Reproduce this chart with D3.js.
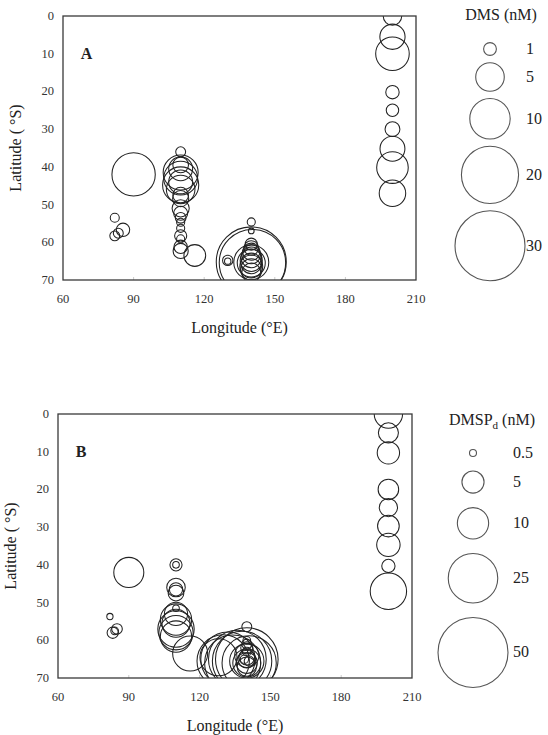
<!DOCTYPE html>
<html>
<head>
<meta charset="utf-8">
<script src="https://cdn.jsdelivr.net/npm/d3@7"></script>
<style>
  body { margin: 0; background: #fff; }
  svg { display: block; }
  svg text { font-family: "Liberation Serif", "Times New Roman", "DejaVu Serif", serif; }
  .tick-label { font-size: 12.5px; fill: #333; }
  .axis-title { font-size: 16px; fill: #222; }
  .legend-text { font-size: 16px; fill: #222; }
</style>
</head>
<body>
<script>
// Station data: [longitude (°E), latitude (°S), concentration (nM)]
var dmsPoints = [
  [82, 53.5, 0.5], [82, 58.3, 0.6], [83.5, 57.6, 0.6], [85.5, 56.7, 1.1],
  [90, 42, 11.5],
  [110, 36, 0.6], [110, 39.5, 1.5], [110, 40.5, 3.5], [110, 41.5, 7.5], [110, 43, 7],
  [110, 44, 3.5], [110, 44.8, 8], [110, 46, 5], [110, 47.5, 1.5], [110, 48.4, 1.6],
  [110, 51, 1.8], [110, 52.3, 1.2], [110, 53.5, 0.7], [110, 54.7, 0.4], [110, 56.3, 0.4],
  [110, 58.3, 0.9], [110, 59.1, 0.4], [110, 61.2, 1.1], [110, 62.3, 1.4],
  [116, 63.5, 2.9],
  [130, 64.8, 0.65], [130, 65, 0.25],
  [140, 54.6, 0.4], [140, 57, 0.2], [140, 65.2, 30], [140.5, 65.4, 27], [140, 65.3, 7.5],
  [140, 65.5, 4.8], [140, 60.5, 0.9], [140, 61.5, 1.3], [140, 62.5, 1.8], [140, 63.2, 2.2],
  [140, 64, 2.6], [140, 64.8, 3], [140, 65.6, 2.6], [140, 66.4, 3.2], [140, 67.2, 2.8], [140, 68, 2.2],
  [200, 0, 2.1], [200, 5.5, 3.9], [200, 10, 6.9], [200, 20.2, 1.1], [200, 25, 0.95],
  [200, 30, 1.35], [200, 35.2, 3.8], [200, 40.2, 6.1], [200, 47, 4.3]
];

var dmspPoints = [
  [82, 53.7, 0.4], [83.2, 58, 1.3], [85, 57, 1.15], [84, 57.5, 0.6],
  [90, 42, 9.2],
  [110, 40, 1.5], [110, 40, 0.45], [110, 46, 3.5], [110, 46.5, 1.8], [110, 47.5, 2.5],
  [110, 51.5, 0.45], [110, 53, 5.5], [110, 54.5, 10], [110, 55.5, 8], [110, 57, 13.5],
  [110, 58, 12], [110, 59, 10],
  [116, 63.5, 12.5],
  [128, 64.5, 14], [130, 65.5, 28], [132, 65, 30], [134, 66, 32], [136, 65, 34],
  [138, 65.5, 36], [140, 65, 40], [141, 66, 30], [140, 56.4, 1.0], [140, 65.5, 12],
  [140, 66, 8], [140, 64, 6], [140, 60, 0.6], [140, 61, 1], [140, 62, 1.5], [140, 63, 0.8],
  [140, 64.5, 2.5], [140, 65, 3.2], [140, 66, 4.5], [140, 67, 3.8], [139, 65, 0.7], [141, 65.5, 1],
  [200, 0, 8.2], [200, 5, 4.1], [200, 10.3, 5.1], [200, 20, 4.3], [200, 24.8, 3.4],
  [200, 29.7, 4.8], [200, 34.7, 5.6], [200, 40.3, 1.8], [200, 47, 13.5]
];

// Legend sizes
var dmsLegend = [1, 5, 10, 20, 30];
var dmspLegend = [0.5, 5, 10, 25, 50];

// Tick labels
var lonTicks = [60, 90, 120, 150, 180, 210];
var latTicks = [0, 10, 20, 30, 40, 50, 60, 70];

var svg = d3.select("body")
  .append("svg")
  .attr("width", 548)
  .attr("height", 735);

function drawPanel(cfg) {
  var x = d3.scaleLinear().domain([60, 210]).range([cfg.left, cfg.right]);
  var y = d3.scaleLinear().domain([0, 70]).range([cfg.top, cfg.bottom]);
  var r = d3.scaleSqrt().domain([0, cfg.maxVal]).range([0, 35]);

  var g = svg.append("g");

  // clip circles to the plot frame
  g.append("clipPath")
    .attr("id", cfg.id + "-clip")
    .append("rect")
    .attr("x", cfg.left)
    .attr("y", cfg.top)
    .attr("width", cfg.right - cfg.left)
    .attr("height", cfg.bottom - cfg.top);

  // faint inner ticks on the bottom axis
  g.selectAll(".xtick")
    .data(lonTicks.slice(1, -1))
    .enter()
    .append("line")
    .attr("x1", d => x(d))
    .attr("x2", d => x(d))
    .attr("y1", cfg.bottom)
    .attr("y2", cfg.bottom - 3)
    .attr("stroke", "#ccc");

  g.append("g")
    .attr("clip-path", `url(#${cfg.id}-clip)`)
    .selectAll("circle")
    .data(cfg.data)
    .enter()
    .append("circle")
    .attr("cx", d => x(d[0]))
    .attr("cy", d => y(d[1]))
    .attr("r", d => r(d[2]))
    .attr("fill", "none")
    .attr("stroke", "#222")
    .attr("stroke-width", 1.05);

  // frame
  g.append("rect")
    .attr("x", cfg.left)
    .attr("y", cfg.top)
    .attr("width", cfg.right - cfg.left)
    .attr("height", cfg.bottom - cfg.top)
    .attr("fill", "none")
    .attr("stroke", "#3a3a3a")
    .attr("stroke-width", 1.3);

  g.selectAll(".xlab")
    .data(lonTicks)
    .enter()
    .append("text")
    .attr("class", "tick-label")
    .attr("x", d => x(d))
    .attr("y", cfg.bottom + 23)
    .attr("text-anchor", "middle")
    .text(d => d);

  g.selectAll(".ylab")
    .data(latTicks)
    .enter()
    .append("text")
    .attr("class", "tick-label")
    .attr("x", cfg.left - 9)
    .attr("y", d => y(d) + 4)
    .attr("text-anchor", "end")
    .text(d => d);

  g.append("text")
    .attr("class", "axis-title")
    .attr("x", (cfg.left + cfg.right) / 2)
    .attr("y", cfg.bottom + 53)
    .attr("text-anchor", "middle")
    .text("Longitude (°E)");

  g.append("text")
    .attr("class", "axis-title")
    .attr("transform", `translate(${cfg.left - 42}, ${y(35)}) rotate(-90)`)
    .attr("text-anchor", "middle")
    .text("Latitude ( °S)");

  g.append("text")
    .attr("x", x(67.5))
    .attr("y", y(11.5))
    .attr("font-size", 16)
    .attr("font-weight", "bold")
    .attr("fill", "#222")
    .text(cfg.letter);

  // legend: stack the circles downward
  var cy = cfg.legendTop;
  var legend = cfg.legend.map(function(v, i) {
    if (i > 0) cy += r(cfg.legend[i - 1]) + cfg.legendGap + r(v);
    return { v: v, cy: cy };
  });

  g.selectAll(".leg")
    .data(legend)
    .enter()
    .append("circle")
    .attr("cx", cfg.legendX)
    .attr("cy", d => d.cy)
    .attr("r", d => r(d.v))
    .attr("fill", "none")
    .attr("stroke", "#555")
    .attr("stroke-width", 1.1);

  g.selectAll(".legtext")
    .data(legend)
    .enter()
    .append("text")
    .attr("class", "legend-text")
    .attr("x", cfg.labelX)
    .attr("y", d => d.cy + 5)
    .text(d => d.v);

  var title = g.append("text")
    .attr("class", "legend-text")
    .attr("x", cfg.titleX)
    .attr("y", cfg.titleY)
    .attr("text-anchor", "middle");
  title.append("tspan").text(cfg.titleMain);
  if (cfg.titleSub) {
    title.append("tspan").attr("dy", 4).attr("font-size", 11).text(cfg.titleSub);
    title.append("tspan").attr("dy", -4).text(" (nM)");
  }
}

drawPanel({
  id: "a", letter: "A", data: dmsPoints, maxVal: 30,
  left: 63, right: 416, top: 16, bottom: 280,
  legend: dmsLegend, legendTop: 49, legendGap: 7.3, legendX: 490, labelX: 526,
  titleMain: "DMS (nM)", titleX: 501, titleY: 20
});

drawPanel({
  id: "b", letter: "B", data: dmspPoints, maxVal: 50,
  left: 58, right: 412, top: 414, bottom: 678,
  legend: dmspLegend, legendTop: 453, legendGap: 14.5, legendX: 473, labelX: 513,
  titleMain: "DMSP", titleSub: "d", titleX: 492, titleY: 425
});
</script>
</body>
</html>
